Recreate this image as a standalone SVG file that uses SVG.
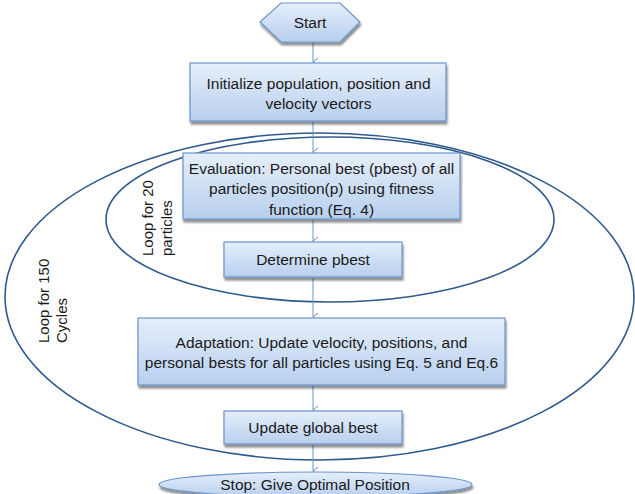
<svg xmlns="http://www.w3.org/2000/svg" width="635" height="494" viewBox="0 0 635 494">
  <defs>
    <linearGradient id="boxFill" x1="0" y1="0" x2="0" y2="1">
      <stop offset="0" stop-color="#e6effb"/>
      <stop offset="1" stop-color="#b7cfee"/>
    </linearGradient>
    <filter id="shadow" x="-10%" y="-20%" width="120%" height="150%">
      <feGaussianBlur in="SourceAlpha" stdDeviation="1.2"/>
      <feOffset dx="1" dy="2.5" result="off"/>
      <feComponentTransfer><feFuncA type="linear" slope="0.45"/></feComponentTransfer>
      <feMerge><feMergeNode/><feMergeNode in="SourceGraphic"/></feMerge>
    </filter>
    <marker id="arrow" markerWidth="10" markerHeight="10" refX="5" refY="6" orient="auto-start-reverse" markerUnits="userSpaceOnUse" viewBox="0 0 10 10">
      <path d="M1,1 L5,6 L9,1" fill="none" stroke="#5d8ccc" stroke-width="1"/>
    </marker>
  </defs>
  <style>
    .node { fill: url(#boxFill); stroke: #6a93cb; stroke-width: 1.2; filter: url(#shadow); }
    .label { font-family: "Liberation Sans", Arial, sans-serif; font-size: 15.5px; fill: #1a1a1a; text-anchor: middle; }
    .loop { fill: none; stroke: #2f5a8e; stroke-width: 1.6; }
    .loopText { font-family: "Liberation Sans", Arial, sans-serif; font-size: 15px; fill: #1a1a1a; }
    .conn { stroke: #6a93cb; stroke-width: 1; fill: none; marker-end: url(#arrow); }
  </style>

  <rect width="635" height="494" fill="#ffffff"/>

  <!-- loop ellipses -->
  <g id="loops">
    <ellipse class="loop" cx="319.5" cy="296.5" rx="314.5" ry="163.5"/>
    <ellipse class="loop" cx="330" cy="219.5" rx="224" ry="82.5"/>
    <text class="loopText" transform="translate(153,256) rotate(-90)">Loop for 20</text>
    <text class="loopText" transform="translate(172,256) rotate(-90)">particles</text>
    <text class="loopText" transform="translate(49,343) rotate(-90)">Loop for 150</text>
    <text class="loopText" transform="translate(67,343) rotate(-90)">Cycles</text>
  </g>

  <!-- connectors -->
  <g id="connectors">
    <line class="conn" x1="313" y1="43" x2="313" y2="62"/>
    <line class="conn" x1="313" y1="122" x2="313" y2="152"/>
    <line class="conn" x1="313" y1="220" x2="313" y2="241"/>
    <line class="conn" x1="313" y1="278" x2="313" y2="317"/>
    <line class="conn" x1="313" y1="386" x2="313" y2="410"/>
    <line class="conn" x1="313" y1="445" x2="313" y2="471"/>
  </g>

  <g id="start">
    <polygon class="node" points="260,22 281,3 340,3 360,22 340,42 281,42"/>
    <text class="label" x="310" y="27.5">Start</text>
  </g>

  <g id="init">
    <rect class="node" x="190" y="63" width="256" height="58"/>
    <text class="label" x="318.5" y="89">Initialize population, position and</text>
    <text class="label" x="318.5" y="109">velocity vectors</text>
  </g>

  <g id="evaluation">
    <rect class="node" x="183" y="153" width="277" height="66"/>
    <text class="label" x="321.5" y="173.5">Evaluation: Personal best (pbest) of all</text>
    <text class="label" x="321.5" y="194">particles position(p) using fitness</text>
    <text class="label" x="321.5" y="214.5">function (Eq. 4)</text>
  </g>

  <g id="determine">
    <rect class="node" x="224" y="242" width="178" height="35"/>
    <text class="label" x="313" y="264.5">Determine pbest</text>
  </g>

  <g id="adaptation">
    <rect class="node" x="138" y="318" width="367" height="67"/>
    <text class="label" x="321.5" y="347.5">Adaptation: Update velocity, positions, and</text>
    <text class="label" x="321.5" y="367.5">personal bests for all particles using Eq. 5 and Eq.6</text>
  </g>

  <g id="global">
    <rect class="node" x="224" y="411" width="178" height="33"/>
    <text class="label" x="313" y="432.5">Update global best</text>
  </g>

  <g id="stop">
    <ellipse class="node" cx="315.5" cy="484.5" rx="156.5" ry="12.5"/>
    <text class="label" x="315" y="489.5">Stop: Give Optimal Position</text>
  </g>
</svg>
